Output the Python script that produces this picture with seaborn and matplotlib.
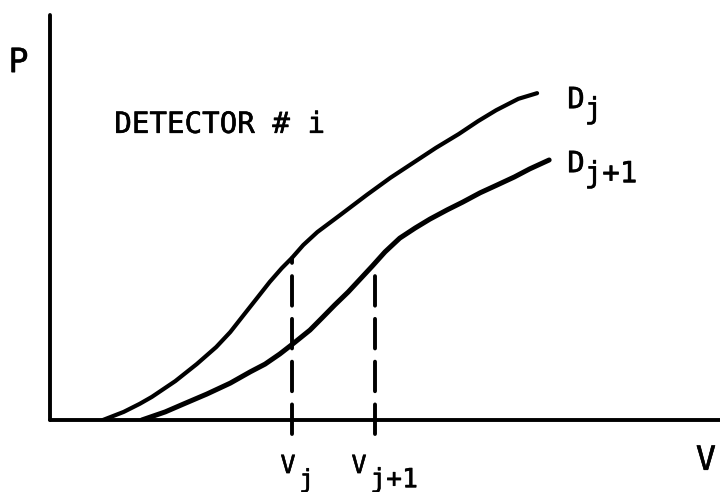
import numpy as np
import pandas as pd
import matplotlib
matplotlib.use("Agg")
import matplotlib.pyplot as plt
import matplotlib.patheffects as pe
import seaborn as sns

# Response curves P(V) of one detector for two neighbouring settings
v_dj = [0.79, 1.10, 1.34, 1.52, 1.87, 2.19, 2.48, 2.69, 2.88, 3.09, 3.28, 3.46, 3.61,
        3.78, 3.99, 4.33, 4.73, 5.08, 5.42, 5.76, 6.10, 6.39, 6.66, 6.99, 7.27]
p_dj = [0.00, 0.20, 0.40, 0.57, 0.96, 1.38, 1.80, 2.17, 2.57, 3.01, 3.41, 3.75, 4.00,
        4.32, 4.64, 5.06, 5.56, 5.98, 6.35, 6.72, 7.06, 7.38, 7.65, 7.93, 8.07]
v_dj1 = [1.37, 1.72, 2.00, 2.34, 2.69, 2.99, 3.21, 3.43, 3.64, 3.88, 4.06, 4.25, 4.45,
         4.63, 4.81, 5.00, 5.22, 5.45, 5.67, 5.93, 6.16, 6.42, 6.67, 6.93, 7.16, 7.45]
p_dj1 = [0.00, 0.20, 0.40, 0.64, 0.91, 1.19, 1.38, 1.63, 1.90, 2.22, 2.52, 2.84, 3.16,
         3.48, 3.80, 4.15, 4.49, 4.74, 4.96, 5.19, 5.38, 5.61, 5.80, 6.00, 6.20, 6.42]

# Marked voltages and the level where each dashed marker meets its curve
v_marks = [3.61, 4.85]
p_marks = [4.00, 3.75]

curve_names = ["D_j", "D_j+1"]
mark_subs = ["j", "j+1"]
title_text = "DETECTOR # i"

sns.set_theme(style="white")
plt.rcParams["font.family"] = ["DejaVu Sans Mono", "DejaVu Sans"]

df = pd.DataFrame({
    "V": v_dj + v_dj1,
    "P": p_dj + p_dj1,
    "curve": [curve_names[0]] * len(v_dj) + [curve_names[1]] * len(v_dj1),
})

fig = plt.figure(figsize=(7.2, 4.92), dpi=100)
ax = fig.add_axes([50 / 720, 72 / 492, 670 / 720, 405 / 492])

sns.lineplot(data=df[df.curve == curve_names[0]], x="V", y="P", ax=ax,
             color="black", lw=3.0, solid_capstyle="round",
             solid_joinstyle="round", sort=True, legend=False)
sns.lineplot(data=df[df.curve == curve_names[1]], x="V", y="P", ax=ax,
             color="black", lw=3.6, solid_capstyle="round",
             solid_joinstyle="round", sort=True, legend=False)

# dashed markers, drawn upward from just below the V axis to the curves
for v, p in zip(v_marks, p_marks):
    ax.plot([v, v], [-0.34, p], color="black", lw=2.8,
            linestyle=(0, (7.6, 3.4)), dash_capstyle="round", clip_on=False)

ax.set_xlim(0, 10)
ax.set_ylim(0, 10)
ax.set_xticks([])
ax.set_yticks([])
ax.set_xlabel("")
ax.set_ylabel("")
for side in ["top", "right"]:
    ax.spines[side].set_visible(False)
for side in ["left", "bottom"]:
    ax.spines[side].set_color("black")
    ax.spines[side].set_linewidth(2.8)
    ax.spines[side].set_capstyle("round")

heavy = [pe.withStroke(linewidth=0.4, foreground="black")]
txt = dict(color="black", ha="left", va="baseline", clip_on=False, path_effects=heavy)

# axis letters
ax.text(-0.62, 8.59, "P", fontsize=24, **txt)
ax.text(9.64, -1.23, "V", fontsize=24, **txt)

# heading
ax.text(0.96, 7.09, title_text, fontsize=21, **txt)

# curve labels with lowered subscripts
ax.text(7.72, 7.70, "D", fontsize=21, **txt)
ax.text(7.98, 7.45, mark_subs[0], fontsize=21, **txt)
ax.text(7.72, 6.12, "D", fontsize=21, **txt)
ax.text(7.98, 5.87, mark_subs[1], fontsize=21, **txt)

# voltage labels under the dashed markers
ax.text(3.44, -1.31, "V", fontsize=18, **txt)
ax.text(3.72, -1.66, mark_subs[0], fontsize=18, **txt)
ax.text(4.50, -1.31, "V", fontsize=18, **txt)
ax.text(4.78, -1.66, mark_subs[1], fontsize=19, **txt)

fig.savefig("out.png", dpi=100)
